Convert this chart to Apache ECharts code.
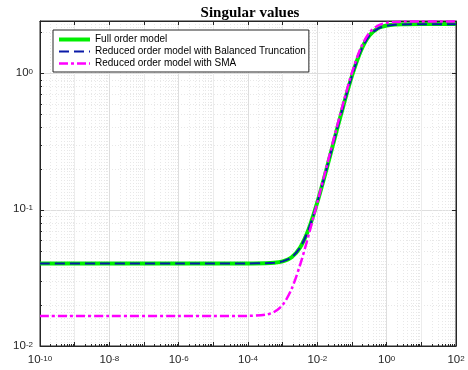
<!DOCTYPE html>
<html lang="en">
<head>
<meta charset="UTF-8">
<title>Singular values</title>
<script src="https://cdn.jsdelivr.net/npm/echarts@6/dist/echarts.min.js"></script>
<style>
    html, body { margin: 0; padding: 0; background: #fff; }
    #main { width: 468px; height: 370px; }
</style>
</head>
<body>
<div id="main"></div>
<script>
    // frequencies (rad/s)
    var freq = [1e-10, 1e-8, 1e-6, 1e-5, 1e-4, 3.16e-4, 5.62e-4, 1e-3, 1.78e-3, 3.16e-3, 5.62e-3,
        1e-2, 1.78e-2, 3.16e-2, 5.62e-2, 0.1, 0.178, 0.316, 0.562, 1, 1.78, 3.16, 10, 100];

    var fullOrder = [0.0404, 0.0404, 0.0404, 0.0404, 0.0404, 0.0405, 0.0408, 0.0418, 0.0446, 0.0526, 0.0721,
        0.1136, 0.1925, 0.3348, 0.579, 0.963, 1.46, 1.90, 2.15, 2.25, 2.29, 2.30, 2.31, 2.31];
    var balTrunc = [0.0404, 0.0404, 0.0404, 0.0404, 0.0404, 0.0405, 0.0408, 0.0418, 0.0446, 0.0526, 0.0721,
        0.1136, 0.1925, 0.3348, 0.579, 0.963, 1.46, 1.90, 2.14, 2.24, 2.28, 2.29, 2.30, 2.30];
    var smaModel = [0.0166, 0.0166, 0.0166, 0.0166, 0.01664, 0.01698, 0.01776, 0.02004, 0.02596, 0.03918, 0.06526,
        0.1133, 0.1995, 0.3514, 0.6104, 1.0165, 1.534, 1.99, 2.25, 2.355, 2.39, 2.405, 2.41, 2.41];

    var seriesNames = ['Full order model', 'Reduced order model with Balanced Truncation', 'Reduced order model with SMA'];
    var seriesColors = ['#00ee00', '#0a1aa8', '#ff00ff'];
    var lineWidths = [4, 2, 2.5];

    function pairs(ys) {
        return freq.map(function (f, i) { return [f, ys[i]]; });
    }

    // 10^n labels; x axis only labels the even decades
    function expLabel(v, evenOnly) {
        var l = Math.log(v) / Math.LN10;
        var e = Math.round(l);
        if (Math.abs(l - e) > 0.01) return '';
        if (evenOnly && e % 2 !== 0) return '';
        return '{b|10}{s|' + e + '}';
    }
    var labelRich = {
        b: { fontSize: 11.5, fontFamily: 'Liberation Sans', color: '#262626', verticalAlign: 'bottom', lineHeight: 11 },
        s: { fontSize: 8, fontFamily: 'Liberation Sans', color: '#262626', verticalAlign: 'top', lineHeight: 8, padding: [0, 0, 7, 0] }
    };

    var axisCol = '#262626';
    var legendText = { fontSize: 10, lineHeight: 11, fontFamily: 'Liberation Sans', color: '#000' };

    var myChart = echarts.init(document.getElementById('main'));
    myChart.setOption({
        animation: false,
        backgroundColor: '#fff',
        title: {
            text: 'Singular values',
            left: 245,
            textAlign: 'center',
            top: 1,
            textStyle: { fontFamily: 'Liberation Serif', fontWeight: 'bold', fontSize: 15, color: '#000' }
        },
        grid: {
            left: 40, right: 12, top: 21, bottom: 21,
            show: true, borderColor: axisCol, borderWidth: 1
        },
        legend: {
            orient: 'vertical',
            left: 53, top: 30,
            backgroundColor: '#fff',
            borderColor: axisCol, borderWidth: 1, borderRadius: 0,
            padding: [4, 3, 3, 4],
            itemWidth: 31, itemHeight: 11, itemGap: 1,
            itemStyle: { opacity: 0 },   // hide the dot, keep the line sample
            textStyle: legendText,
            data: seriesNames.map(function (n, i) {
                return { name: n, lineStyle: { width: lineWidths[i] } };
            })
        },
        xAxis: [{
            type: 'log', logBase: 10,
            min: 1e-10, max: 1e2, interval: 1,
            axisLine: { show: true, lineStyle: { color: axisCol, width: 1 } },
            axisTick: { show: true, inside: true, length: 4, lineStyle: { color: axisCol } },
            minorTick: { show: true, splitNumber: 9, length: 2, lineStyle: { color: axisCol } },
            axisLabel: { formatter: function (v) { return expLabel(v, true); }, rich: labelRich, margin: 9, interval: 0 },
            splitLine: { show: true, lineStyle: { color: ['#dedede', '#ececec'], width: 1 } },
            minorSplitLine: { show: true, lineStyle: { color: '#e8e8e8', type: [1, 2], width: 1 } }
        }, {
            type: 'log', logBase: 10, position: 'top',
            min: 1e-10, max: 1e2, interval: 1,
            axisLine: { show: true, lineStyle: { color: axisCol, width: 1 } },
            axisTick: { show: true, inside: true, length: 4, lineStyle: { color: axisCol } },
            axisLabel: { show: false },
            splitLine: { show: false }
        }],
        yAxis: [{
            type: 'log', logBase: 10,
            min: 0.01, max: 2.43, interval: 1,
            axisLine: { show: true, lineStyle: { color: axisCol, width: 1 } },
            axisTick: { show: true, inside: true, length: 4, lineStyle: { color: axisCol } },
            minorTick: { show: true, splitNumber: 9, length: 2, lineStyle: { color: axisCol } },
            axisLabel: { formatter: function (v) { return expLabel(v, false); }, rich: labelRich, margin: 7 },
            splitLine: { show: true, lineStyle: { color: '#dedede', width: 1 } },
            minorSplitLine: { show: true, lineStyle: { color: '#e8e8e8', type: [1, 2], width: 1 } }
        }, {
            type: 'log', logBase: 10, position: 'right',
            min: 0.01, max: 2.43, interval: 1,
            axisLine: { show: true, lineStyle: { color: axisCol, width: 1 } },
            axisTick: { show: true, inside: true, length: 4, lineStyle: { color: axisCol } },
            axisLabel: { show: false },
            splitLine: { show: false }
        }],
        series: [{
            name: seriesNames[0],
            type: 'line',
            data: pairs(fullOrder),
            showSymbol: false,
            smooth: 0.3,
            itemStyle: { color: seriesColors[0] },
            lineStyle: { color: seriesColors[0], width: lineWidths[0] },
            z: 2
        }, {
            name: seriesNames[1],
            type: 'line',
            data: pairs(balTrunc),
            showSymbol: false,
            smooth: 0.3,
            itemStyle: { color: seriesColors[1] },
            lineStyle: { color: seriesColors[1], width: lineWidths[1], type: [10, 5], cap: 'butt' },
            z: 3
        }, {
            name: seriesNames[2],
            type: 'line',
            data: pairs(smaModel),
            showSymbol: false,
            smooth: 0.3,
            itemStyle: { color: seriesColors[2] },
            lineStyle: { color: seriesColors[2], width: lineWidths[2], type: [9, 3, 3, 3], cap: 'butt' },
            z: 4
        }]
    });
</script>
</body>
</html>
